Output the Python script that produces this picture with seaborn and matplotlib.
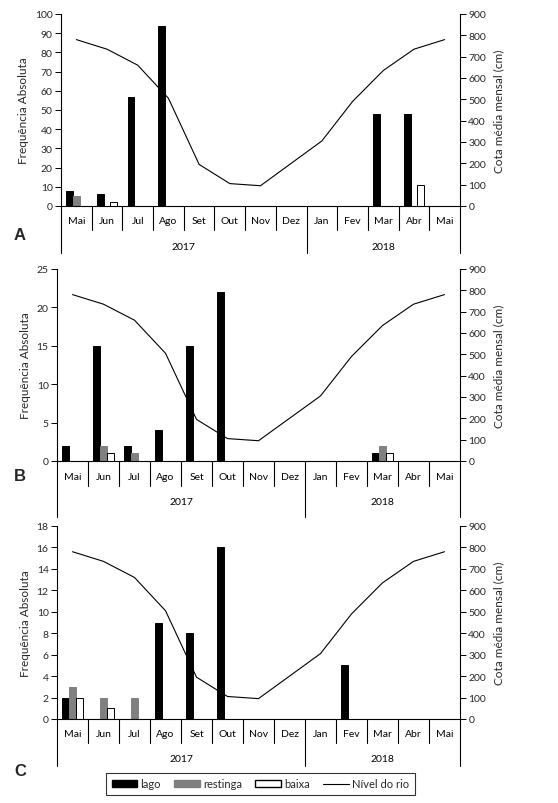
import numpy as np
import pandas as pd
import matplotlib
matplotlib.use("Agg")
import matplotlib.pyplot as plt
from matplotlib.patches import Patch
from matplotlib.lines import Line2D
import seaborn as sns

# ── data ──────────────────────────────────────────────
meses = ["Mai", "Jun", "Jul", "Ago", "Set", "Out", "Nov", "Dez",
         "Jan", "Fev", "Mar", "Abr", "Mai"]
anos = ["2017", "2018"]
nivel_rio = [780, 735, 660, 505, 195, 105, 95, 200, 305, 490, 635, 735, 780]

lago_A     = [8, 6, 57, 94, 0, 0, 0, 0, 0, 0, 48, 48, 0]
restinga_A = [5, 0, 0, 0, 0, 0, 0, 0, 0, 0, 0, 0, 0]
baixa_A    = [0, 2, 0, 0, 0, 0, 0, 0, 0, 0, 0, 11, 0]

lago_B     = [2, 15, 2, 4, 15, 22, 0, 0, 0, 0, 1, 0, 0]
restinga_B = [0, 2, 1, 0, 0, 0, 0, 0, 0, 0, 2, 0, 0]
baixa_B    = [0, 1, 0, 0, 0, 0, 0, 0, 0, 0, 1, 0, 0]

lago_C     = [2, 0, 0, 9, 8, 16, 0, 0, 0, 5, 0, 0, 0]
restinga_C = [3, 2, 2, 0, 0, 0, 0, 0, 0, 0, 0, 0, 0]
baixa_C    = [2, 1, 0, 0, 0, 0, 0, 0, 0, 0, 0, 0, 0]

tipos = ["lago", "restinga", "baixa"]
cores = {"lago": "black", "restinga": "#808080", "baixa": "white"}
bordas = {"lago": "black", "restinga": "#808080", "baixa": "black"}

W, H = 558, 804
sns.set_theme(style="white")
plt.rcParams["font.family"] = ["Lato", "DejaVu Sans"]

fig = plt.figure(figsize=(W / 100, H / 100), dpi=100)

# panel boxes in pixels: left, right, top, bottom, ymax, ystep, month row, year row, letter y
paineis = [
    ("A", lago_A, restinga_A, baixa_A, 61, 460, 15, 207, 100, 10, 24, 47, 235),
    ("B", lago_B, restinga_B, baixa_B, 57, 460, 270, 462, 25, 5, 25, 56, 477),
    ("C", lago_C, restinga_C, baixa_C, 57, 460, 527, 720, 18, 2, 24, 47, 772),
]

for letra, lago, rest, baixa, xl, xr, yt, yb, ymax, ystep, mrow, yrow, ly in paineis:
    ax = fig.add_axes([xl / W, 1 - yb / H, (xr - xl) / W, (yb - yt) / H])
    df = pd.DataFrame({
        "pos": list(range(13)) * 3,
        "tipo": ["lago"] * 13 + ["restinga"] * 13 + ["baixa"] * 13,
        "n": lago + rest + baixa,
    })
    sns.barplot(data=df, x="pos", y="n", hue="tipo", hue_order=tipos,
                order=list(range(13)), palette=cores, width=0.66,
                linewidth=0.7, edgecolor="black", legend=False, ax=ax)
    for cont, t in zip(ax.containers, tipos):
        for p in cont:
            p.set_edgecolor(bordas[t])

    ax.set_xlim(-0.5, 12.5)
    ax.set_ylim(0, ymax)
    ax.set_yticks(np.arange(0, ymax + 0.1, ystep))
    ax.set_xticks(range(13))
    ax.set_xticklabels([])
    ax.tick_params(axis="x", direction="in", length=3, width=0.7, color="black")
    ax.tick_params(axis="y", direction="out", length=4, width=0.7, color="black",
                   left=True, labelsize=7.5, pad=2)
    ax.set_xlabel("")
    ax.set_ylabel("Frequência Absoluta", fontsize=8.5, labelpad=4)
    for s in ["top", "right"]:
        ax.spines[s].set_visible(False)
    for s in ["left", "bottom"]:
        ax.spines[s].set_color("black")
        ax.spines[s].set_linewidth(0.8)

    ax2 = ax.twinx()
    ax2.plot(range(13), nivel_rio, color="black", lw=0.8)
    ax2.set_ylim(0, 900)
    ax2.set_yticks(range(0, 901, 100))
    ax2.tick_params(axis="y", direction="out", length=4, width=0.7, color="black",
                    right=True, labelsize=7.5, pad=2)
    ax2.set_ylabel("Cota média mensal (cm)", fontsize=8.5, labelpad=5)
    for s in ["top", "left", "bottom"]:
        ax2.spines[s].set_visible(False)
    ax2.spines["right"].set_color("black")
    ax2.spines["right"].set_linewidth(0.8)
    ax2.grid(False)
    ax.grid(False)

    # multi-level category axis
    h = yb - yt
    tr = ax.get_xaxis_transform()
    for i, m in enumerate(meses):
        ax.text(i, -(mrow / 2 + 3) / h, m, transform=tr, ha="center", va="center",
                fontsize=7.5, color="black")
    for b in np.arange(0.5, 12, 1):
        if b == 7.5:
            continue
        ax.plot([b, b], [0, -mrow / h], transform=tr, color="black", lw=0.8, clip_on=False)
    for b in [-0.5, 7.5, 12.5]:
        ax.plot([b, b], [0, -yrow / h], transform=tr, color="black", lw=0.8, clip_on=False)
    ax.text(3.5, -(mrow + 16) / h, anos[0], transform=tr, ha="center", va="center",
            fontsize=7.5, color="black")
    ax.text(10.0, -(mrow + 16) / h, anos[1], transform=tr, ha="center", va="center",
            fontsize=7.5, color="black")

    fig.text(20 / W, 1 - ly / H, letra, fontsize=12, fontweight="bold",
             ha="center", va="center", family=["Liberation Sans", "DejaVu Sans"])

handles = [
    Patch(facecolor="black", edgecolor="black", label="lago"),
    Patch(facecolor="#808080", edgecolor="#808080", label="restinga"),
    Patch(facecolor="white", edgecolor="black", label="baixa"),
    Line2D([0], [0], color="black", lw=0.8, label="Nível do rio"),
]
leg = fig.legend(handles=handles, loc="center", bbox_to_anchor=(260.5 / W, 1 - 785 / H),
                 ncol=4, fontsize=8, frameon=True, fancybox=False, handlelength=2.3,
                 handleheight=0.6, columnspacing=1.2, handletextpad=0.3,
                 borderpad=0.5)
leg.get_frame().set_edgecolor("black")
leg.get_frame().set_linewidth(0.8)

fig.savefig("out.png", dpi=100)
